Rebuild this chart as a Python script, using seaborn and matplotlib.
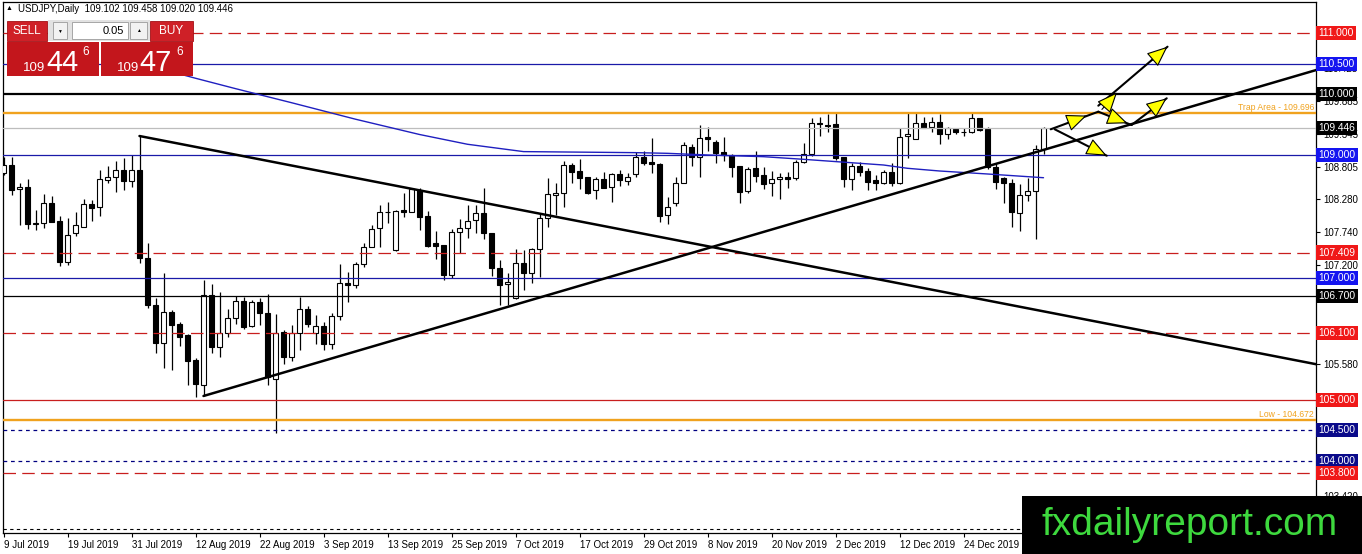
import matplotlib
matplotlib.use("Agg")
import matplotlib.pyplot as plt
import matplotlib.patches as mpatches
import numpy as np
import pandas as pd
import seaborn as sns

# barras diarias USDJPY (9 Jul 2019 - 9 Jan 2020), sem 25 Dez e 1 Jan
dates = pd.bdate_range("2019-07-09", "2020-01-09")
dates = dates[~dates.isin(pd.to_datetime(["2019-12-25", "2020-01-01"]))]

opens = [108.705, 108.841, 108.443, 108.476, 107.880, 107.887, 108.214, 107.925, 107.260, 107.734,
         107.832, 108.203, 108.160, 108.596, 108.639, 108.759, 108.585, 108.759, 107.315, 106.551,
         105.924, 106.431, 106.240, 106.060, 105.651, 105.248, 106.709, 105.870, 106.088, 106.333,
         106.611, 106.208, 106.595, 106.415, 105.335, 106.104, 105.706, 106.088, 106.480, 106.088,
         106.208, 105.908, 106.371, 106.905, 106.878, 107.216, 107.505, 107.805, 108.078, 107.451,
         108.105, 108.078, 108.432, 108.007, 107.560, 107.533, 107.042, 107.740, 107.805, 107.941,
         108.061, 107.723, 107.151, 106.889, 106.660, 107.244, 107.069, 107.462, 107.969, 108.345,
         108.378, 108.836, 108.743, 108.640, 108.432, 108.607, 108.476, 108.688, 108.585, 108.688,
         108.977, 108.890, 108.857, 108.023, 108.214, 108.552, 109.141, 108.966, 109.294, 109.223,
         109.059, 109.005, 108.825, 108.421, 108.787, 108.677, 108.541, 108.607, 108.639, 108.623,
         108.896, 109.016, 109.534, 109.501, 109.512, 108.966, 108.607, 108.830, 108.748, 108.596,
         108.541, 108.721, 108.541, 109.310, 109.266, 109.522, 109.457, 109.539, 109.343, 109.430,
         109.381, 109.375, 109.604, 109.430, 108.814, 108.623, 108.541, 108.050, 108.350, 108.421,
         109.102]
highs = [108.980, 108.977, 108.541, 108.607, 108.105, 108.367, 108.334, 108.007, 107.969, 108.078,
         108.279, 108.268, 108.759, 108.825, 108.906, 108.961, 109.005, 109.315, 107.560, 106.660,
         107.069, 106.470, 106.279, 106.070, 105.679, 106.960, 106.895, 106.758, 106.480, 106.698,
         106.677, 106.633, 106.660, 106.731, 106.404, 106.142, 106.224, 106.677, 106.535, 106.388,
         106.279, 106.426, 107.222, 107.096, 107.260, 107.571, 107.860, 108.187, 108.241, 108.105,
         108.378, 108.460, 108.460, 108.094, 107.762, 107.540, 107.794, 107.952, 108.187, 108.187,
         108.460, 107.730, 107.287, 107.080, 107.462, 107.451, 107.478, 108.040, 108.623, 108.552,
         108.906, 108.868, 108.934, 108.650, 108.650, 108.732, 108.705, 108.759, 108.705, 109.059,
         109.070, 109.277, 108.868, 108.312, 108.639, 109.223, 109.179, 109.495, 109.468, 109.250,
         109.304, 109.021, 108.830, 108.814, 109.075, 108.814, 108.748, 108.705, 108.732, 108.923,
         109.206, 109.604, 109.621, 109.675, 109.713, 108.977, 108.879, 108.896, 108.787, 108.677,
         108.759, 108.868, 109.441, 109.686, 109.686, 109.631, 109.631, 109.670, 109.468, 109.452,
         109.441, 109.686, 109.615, 109.468, 108.868, 108.650, 108.612, 108.525, 108.623, 109.168,
         109.458]
lows = [108.680, 108.350, 107.860, 107.794, 107.778, 107.816, 107.910, 107.194, 107.205, 107.680,
        107.821, 107.931, 108.007, 108.552, 108.405, 108.432, 108.487, 107.244, 106.497, 105.772,
        105.515, 105.488, 105.880, 105.243, 105.041, 105.063, 105.761, 105.706, 106.022, 106.240,
        106.153, 106.197, 106.224, 105.243, 104.458, 105.581, 105.635, 105.815, 106.197, 105.913,
        105.815, 105.826, 106.306, 106.606, 106.824, 107.178, 107.494, 107.505, 107.898, 107.440,
        107.996, 108.070, 107.778, 107.494, 107.298, 106.960, 106.987, 107.396, 107.642, 107.734,
        107.625, 107.026, 106.551, 106.551, 106.649, 106.797, 106.916, 107.015, 107.832, 108.023,
        108.149, 108.552, 108.449, 108.367, 108.285, 108.460, 108.241, 108.498, 108.509, 108.650,
        108.841, 108.716, 107.914, 107.876, 108.176, 108.540, 108.825, 108.639, 109.075, 108.879,
        108.912, 108.650, 108.225, 108.378, 108.568, 108.443, 108.334, 108.280, 108.459, 108.596,
        108.868, 108.988, 109.315, 109.386, 108.923, 108.476, 108.432, 108.661, 108.432, 108.432,
        108.525, 108.503, 108.525, 108.950, 109.260, 109.441, 109.386, 109.179, 109.266, 109.343,
        109.321, 109.359, 109.397, 108.775, 108.448, 108.214, 107.832, 107.761, 108.252, 107.631,
        109.020]
closes = [108.840, 108.432, 108.476, 107.871, 107.890, 108.214, 107.914, 107.260, 107.691, 107.854,
          108.203, 108.143, 108.607, 108.645, 108.759, 108.585, 108.759, 107.315, 106.551, 105.924,
          106.431, 106.224, 106.033, 105.635, 105.259, 106.709, 105.870, 106.088, 106.333, 106.611,
          106.197, 106.595, 106.415, 105.368, 106.088, 105.706, 106.088, 106.480, 106.240, 106.208,
          105.908, 106.371, 106.905, 106.884, 107.216, 107.505, 107.794, 108.078, 108.072, 108.094,
          108.078, 108.443, 107.996, 107.516, 107.522, 107.042, 107.745, 107.805, 107.925, 108.050,
          107.723, 107.151, 106.878, 106.922, 107.244, 107.080, 107.462, 107.969, 108.361, 108.378,
          108.836, 108.732, 108.634, 108.388, 108.607, 108.470, 108.688, 108.596, 108.650, 108.977,
          108.879, 108.852, 108.007, 108.159, 108.552, 109.168, 108.977, 109.277, 109.261, 109.043,
          109.005, 108.814, 108.405, 108.776, 108.661, 108.530, 108.607, 108.639, 108.618, 108.896,
          109.016, 109.523, 109.512, 109.484, 108.950, 108.607, 108.830, 108.732, 108.568, 108.541,
          108.721, 108.541, 109.304, 109.343, 109.522, 109.452, 109.539, 109.343, 109.441, 109.375,
          109.375, 109.604, 109.413, 108.814, 108.568, 108.541, 108.078, 108.350, 108.421, 109.097,
          109.446]

# media movel (indice da barra -> preco)
ma_idx = [20, 24, 29, 36, 44, 52, 58, 65, 79, 83, 88, 95, 100, 103, 110, 113, 117, 123, 130]
ma_vals = [110.40, 110.26, 110.09, 109.86, 109.59, 109.34, 109.18, 109.06, 109.043, 109.032,
           109.005, 108.977, 108.934, 108.906, 108.841, 108.787, 108.743, 108.694, 108.633]

# linhas de tendencia (barra inicial, preco, barra final, preco)
trend_down = (17, 109.315, 164.1, 105.582)
trend_up = (25, 105.063, 164.1, 110.395)

# niveis horizontais
level_vals = [111.0, 110.5, 110.0, 109.446, 109.0, 107.409, 107.0, 106.7, 106.1, 105.0, 104.5, 104.0, 103.8]
level_line_colors = ["#c81e1e", "#1a1aa8", "black", "#bdbdbd", "#1a1aa8", "#c81e1e", "#1a1aa8",
                     "black", "#c81e1e", "#c81e1e", "#000080", "#000080", "#c81e1e"]
level_styles = ["red", "solid", "thick", "solid", "solid", "red", "solid",
                "solid", "red", "solid", "navy", "navy", "red"]
level_box_colors = ["#f01818", "#1414f0", "black", "black", "#1414f0", "#f01818", "#1414f0",
                    "black", "#f01818", "#f01818", "#0a0a8a", "#0a0a8a", "#f01818"]
orange_vals = [109.696, 104.672]
orange_texts = ["Trap Area - 109.696", "Low - 104.672"]
bottom_dotted = 102.887

# setas (amarelas) desenhadas a mao
arrow_lines = [(130.9, 109.425, 136.85, 109.713), (136.85, 109.713, 141.0, 109.495),
               (141.0, 109.495, 145.4, 109.932), (136.85, 109.811, 145.5, 110.776),
               (131.4, 109.425, 137.9, 108.993)]
arrow_heads = [(133.0, 109.527, 135.4, 109.65), (138.8, 109.61, 140.5, 109.523),
               (143.6, 109.75, 145.4, 109.932), (143.5, 110.55, 145.5, 110.776),
               (137.3, 109.75, 139.2, 110.03), (136.0, 109.12, 137.9, 108.993)]

ytick_vals = [110.425, 109.885, 109.345, 108.805, 108.280, 107.740, 107.200, 106.660,
              106.120, 105.580, 105.040, 104.500, 103.960, 103.420, 102.880]
ytick_labels = ["110.425", "109.885", "109.345", "108.805", "108.280", "107.740", "107.200",
                "106.660", "", "105.580", "", "", "", "103.420", ""]
xtick_labels = ["9 Jul 2019", "19 Jul 2019", "31 Jul 2019", "12 Aug 2019", "22 Aug 2019",
                "3 Sep 2019", "13 Sep 2019", "25 Sep 2019", "7 Oct 2019", "17 Oct 2019",
                "29 Oct 2019", "8 Nov 2019", "20 Nov 2019", "2 Dec 2019", "12 Dec 2019",
                "24 Dec 2019"]

sns.set_style("white", {"axes.edgecolor": "black", "xtick.color": "black",
                        "ytick.color": "black", "text.color": "black"})
plt.rcParams["font.family"] = ["Liberation Sans", "DejaVu Sans"]

W, H = 1362, 554
fig = plt.figure(figsize=(W / 100, H / 100), dpi=100)
ax = fig.add_axes([2.7 / W, 1 - 533 / H, (1316 - 2.7) / W, (533 - 2) / H])

# candles
x = np.arange(len(dates))
o, h, l, c = (np.array(v) for v in (opens, highs, lows, closes))
bull = c >= o
body_lo = np.minimum(o, c)
body_h = np.maximum(np.abs(c - o), 0.008)
ax.vlines(x, l, h, color="black", lw=0.9, zorder=2)
ax.bar(x[bull], body_h[bull], bottom=body_lo[bull], width=0.62, color="white",
       edgecolor="black", linewidth=0.8, zorder=3)
ax.bar(x[~bull], body_h[~bull], bottom=body_lo[~bull], width=0.62, color="black",
       edgecolor="black", linewidth=0.8, zorder=3)

# niveis
for val, col, sty in zip(level_vals, level_line_colors, level_styles):
    if sty == "red":
        ax.axhline(val, color=col, lw=0.9, ls=(0, (10, 5)), zorder=4)
    elif sty == "navy":
        ax.axhline(val, color=col, lw=0.9, ls=(0, (3, 3)), zorder=4)
    elif sty == "thick":
        ax.axhline(val, color=col, lw=1.6, zorder=4)
    else:
        ax.axhline(val, color=col, lw=0.9, zorder=4)
ax.axhline(bottom_dotted, color="black", lw=0.8, ls=(0, (3, 3)), zorder=4)

for val, txt in zip(orange_vals, orange_texts):
    ax.axhline(val, color="#f0a21e", lw=1.7, zorder=4)
    ax.text(0.9985, val + 0.085, txt, transform=ax.get_yaxis_transform(), ha="right",
            va="center", fontsize=6.2, color="#f0a21e", zorder=5)

# media movel e tendencias
sns.lineplot(x=ma_idx, y=ma_vals, ax=ax, color="#1f1fc0", lw=1.0, zorder=5)
for t in (trend_down, trend_up):
    sns.lineplot(x=[t[0], t[2]], y=[t[1], t[3]], ax=ax, color="black", lw=1.8, zorder=6)

# setas
for x0, y0, x1, y1 in arrow_lines:
    ax.plot([x0, x1], [y0, y1], color="black", lw=1.5, zorder=7, clip_on=False)
for x0, y0, x1, y1 in arrow_heads:
    ax.annotate("", xy=(x1, y1), xytext=(x0, y0), zorder=8,
                arrowprops=dict(arrowstyle="-|>,head_length=1.3,head_width=0.55",
                                mutation_scale=10, fc="#ffff00", ec="black", lw=0.8,
                                shrinkA=0, shrinkB=0))

ax.set_xlim(-0.1, 164.06)
ax.set_ylim(102.822, 111.507)
ax.set_xticks(np.arange(0, 121, 8), xtick_labels, ha="left")
ax.yaxis.tick_right()
ax.set_yticks(ytick_vals, ytick_labels)
ax.tick_params(axis="x", bottom=True, direction="out", length=3, width=0.8, pad=2,
               labelsize=7)
ax.tick_params(axis="y", right=True, left=False, direction="out", length=3, width=0.8,
               pad=2, labelsize=7)
for s in ax.spines.values():
    s.set_linewidth(0.9)
    s.set_color("black")
ax.set_xlabel("")
ax.set_ylabel("")
if ax.get_legend():
    ax.get_legend().remove()

# caixas de preco no eixo direito
for val, bc in zip(level_vals, level_box_colors):
    ax.text(1.0019, val, f"{val:.3f}", transform=ax.get_yaxis_transform(), ha="left",
            va="center", fontsize=7.4, color="white", zorder=10, clip_on=False,
            bbox=dict(boxstyle="square,pad=0.2", fc=bc, ec="none"))


def box(x0, y0, x1, y1, **kw):
    fig.add_artist(mpatches.Rectangle((x0 / W, 1 - y1 / H), (x1 - x0) / W, (y1 - y0) / H,
                                      transform=fig.transFigure, **kw))


def label(xp, yp, s, **kw):
    fig.text(xp / W, 1 - yp / H, s, **kw)


# cabecalho
label(6, 9, "\u25b2", fontsize=5, va="center", ha="left")
label(18, 9, "USDJPY,Daily  109.102 109.458 109.020 109.446", fontsize=7,
      va="center", ha="left")

# painel de negociacao
box(48, 20, 150, 41, fc="#e2e2e2", ec="none")
box(6.7, 20.5, 46.7, 41, fc="#cf2027", ec="#a31015", lw=0.6)
box(150, 20.5, 192.7, 41, fc="#cf2027", ec="#a31015", lw=0.6)
box(52.7, 21.7, 66.7, 39.3, fc="#f2f2f2", ec="#9a9a9a", lw=0.6)
box(71.7, 21.7, 128.3, 39.3, fc="white", ec="#9a9a9a", lw=0.6)
box(130, 21.7, 146.7, 39.3, fc="#f2f2f2", ec="#9a9a9a", lw=0.6)
box(6.7, 41.7, 99.3, 76, fc="#c3161c", ec="none")
box(101, 41.7, 192.7, 76, fc="#c3161c", ec="none")
label(26.7, 31, "SELL", fontsize=8.5, color="white", ha="center", va="center")
label(171.3, 31, "BUY", fontsize=8.5, color="white", ha="center", va="center")
label(59.7, 31, "\u25bc", fontsize=3.5, ha="center", va="center")
label(138.3, 31, "\u25b2", fontsize=3.5, ha="center", va="center")
label(124, 31, "0.05", fontsize=8, ha="right", va="center")
for x_small, x_big, x_sup, big in [(22.7, 46.7, 82.7, "44"), (116.7, 139.3, 176.7, "47")]:
    label(x_small, 71, "109", fontsize=9.5, color="white", ha="left", va="baseline")
    label(x_big, 71, big, fontsize=21, color="white", ha="left", va="baseline")
    label(x_sup, 55, "6", fontsize=8.5, color="white", ha="left", va="baseline")

# marca d'agua
box(1022, 496, 1362, 554, fc="black", ec="none")
label(1190, 535, "fxdailyreport.com", fontsize=28, color="#3ed93e", ha="center",
      va="baseline")

fig.savefig("out.png", dpi=100)
